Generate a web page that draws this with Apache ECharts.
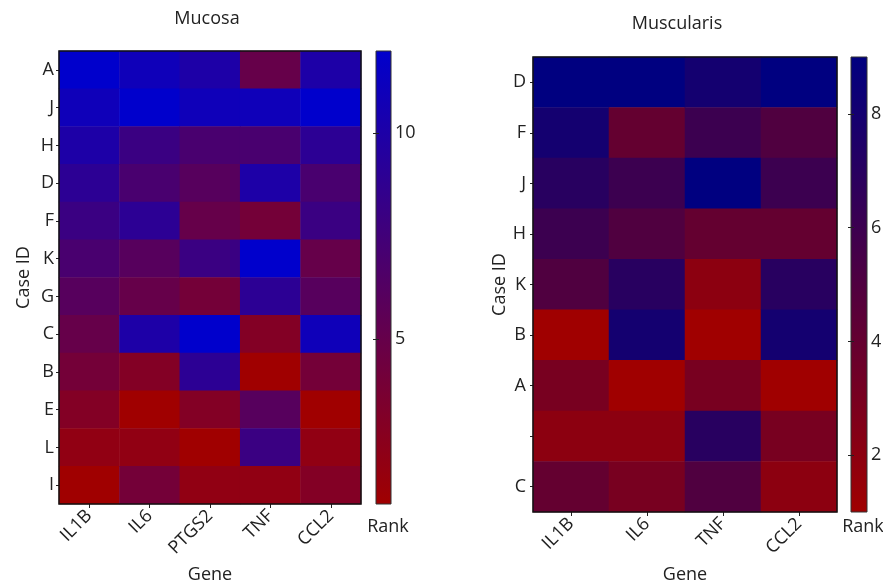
<!DOCTYPE html>
<html><head><meta charset="utf-8">
<script src="https://cdn.jsdelivr.net/npm/echarts@6/dist/echarts.min.js"></script>
<style>html,body{margin:0;padding:0;background:#fff}#c{width:883px;height:583px}</style>
</head><body><div id="c"></div>
<script>
// ---- Mucosa (left) ----
const mucosaGenes = ['IL1B', 'IL6', 'PTGS2', 'TNF', 'CCL2'];
const mucosaCases = ['A', 'J', 'H', 'D', 'F', 'K', 'G', 'C', 'B', 'E', 'L', 'I'];
const mucosaIL1B  = [12, 11, 10, 9, 8, 7, 6, 5, 4, 3, 2, 1];
const mucosaIL6   = [11, 12, 8, 7, 9, 6, 5, 10, 3, 1, 2, 4];
const mucosaPTGS2 = [10, 11, 7, 6, 5, 8, 4, 12, 9, 3, 1, 2];
const mucosaTNF   = [5, 11, 7, 10, 4, 12, 9, 3, 1, 6, 8, 2];
const mucosaCCL2  = [10, 12, 9, 7, 8, 5, 6, 11, 4, 1, 2, 3];
const mucosaTicks = [5, 10];

// ---- Muscularis (right) ----
const muscGenes = ['IL1B', 'IL6', 'TNF', 'CCL2'];
const muscCases = ['D', 'F', 'J', 'H', 'K', 'B', 'A', '', 'C'];
const muscIL1B = [9, 8, 7, 6, 5, 1, 3, 2, 4];
const muscIL6  = [9, 4, 6, 5, 7, 8, 1, 2, 3];
const muscTNF  = [8, 6, 9, 4, 2, 1, 3, 7, 5];
const muscCCL2 = [9, 5, 6, 4, 7, 8, 1, 3, 2];
const muscTicks = [2, 4, 6, 8];

const mucosaCols = [mucosaIL1B, mucosaIL6, mucosaPTGS2, mucosaTNF, mucosaCCL2];
const muscCols = [muscIL1B, muscIL6, muscTNF, muscCCL2];

function toCells(cols) {
  const out = [];
  cols.forEach((col, gi) => col.forEach((v, ci) => out.push([gi, ci, v])));
  return out;
}

const FONT = 'Open Sans';
const TXT = '#222';
const FS = 18;
const lowC = '#A00000';
const highL = '#0000CC';
const highR = '#000080';

function grad(top, bottom) {
  return { type: 'linear', x: 0, y: 0, x2: 0, y2: 1,
    colorStops: [{ offset: 0, color: top }, { offset: 1, color: bottom }] };
}

const chart = echarts.init(document.getElementById('c'), null, { renderer: 'canvas' });

const catX = (idx, data, gap) => ({
  gridIndex: idx, type: 'category', data: data,
  axisLine: { show: false },
  axisTick: { show: true, alignWithLabel: true, length: 4, lineStyle: { color: TXT, width: 1 } },
  axisLabel: { rotate: 45, margin: 9, fontSize: FS, color: TXT, fontFamily: FONT },
  splitLine: { show: false },
  name: 'Gene', nameLocation: 'middle', nameGap: gap,
  nameTextStyle: { fontSize: FS, color: TXT, fontFamily: FONT }
});
const catY = (idx, data, gap, margin) => ({
  gridIndex: idx, type: 'category', data: data, inverse: true,
  axisLine: { show: false },
  axisTick: { show: true, alignWithLabel: true, length: 3, lineStyle: { color: TXT, width: 1 } },
  axisLabel: { margin: margin, fontSize: FS, color: TXT, fontFamily: FONT },
  splitLine: { show: false },
  name: 'Case ID', nameLocation: 'middle', nameGap: gap,
  nameTextStyle: { fontSize: FS, color: TXT, fontFamily: FONT }
});
const barAxis = (idx, max, ticks, pos, showLabel) => ({
  gridIndex: idx, type: 'value', min: 1, max: max, position: pos,
  axisLine: { show: false },
  axisTick: { show: true, inside: true, length: 3, customValues: ticks, lineStyle: { color: '#222', width: 1 } },
  axisLabel: { show: showLabel, customValues: ticks, margin: 4, fontSize: FS, color: TXT, fontFamily: FONT },
  splitLine: { show: false }
});

const option = {
  animation: false,
  backgroundColor: '#fff',
  grid: [
    { left: 59, top: 51, width: 302, height: 453, outerBoundsMode: 'none', containLabel: false, show: true, z: 10, backgroundColor: 'transparent', borderColor: '#111', borderWidth: 1.5 },
    { left: 533, top: 57, width: 304, height: 455, outerBoundsMode: 'none', containLabel: false, show: true, z: 10, backgroundColor: 'transparent', borderColor: '#111', borderWidth: 1.5 },
    { left: 376, top: 51, width: 15, height: 453, outerBoundsMode: 'none', containLabel: false, show: true, backgroundColor: grad(highL, lowC), borderColor: '#333', borderWidth: 1 },
    { left: 851, top: 57, width: 16, height: 455, outerBoundsMode: 'none', containLabel: false, show: true, backgroundColor: grad(highR, lowC), borderColor: '#333', borderWidth: 1 }
  ],
  xAxis: [
    catX(0, mucosaGenes, 62),
    catX(1, muscGenes, 54),
    { gridIndex: 2, type: 'value', show: false },
    { gridIndex: 3, type: 'value', show: false }
  ],
  yAxis: [
    catY(0, mucosaCases, 26, 5),
    catY(1, muscCases, 21, 7),
    barAxis(2, 12, mucosaTicks, 'right', true),
    barAxis(2, 12, mucosaTicks, 'left', false),
    barAxis(3, 9, muscTicks, 'right', true),
    barAxis(3, 9, muscTicks, 'left', false)
  ],
  visualMap: [
    { type: 'continuous', seriesIndex: 0, min: 1, max: 12, show: false, inRange: { color: [lowC, highL] } },
    { type: 'continuous', seriesIndex: 1, min: 1, max: 9, show: false, inRange: { color: [lowC, highR] } }
  ],
  series: [
    { type: 'heatmap', xAxisIndex: 0, yAxisIndex: 0, data: toCells(mucosaCols), emphasis: { disabled: true }, itemStyle: { borderWidth: 0 } },
    { type: 'heatmap', xAxisIndex: 1, yAxisIndex: 1, data: toCells(muscCols), emphasis: { disabled: true }, itemStyle: { borderWidth: 0 } }
  ],
  graphic: [
    { type: 'text', x: 207, y: 19, style: { text: 'Mucosa', font: FS + 'px "' + FONT + '"', fill: TXT, textAlign: 'center', textVerticalAlign: 'middle' } },
    { type: 'text', x: 677, y: 24, style: { text: 'Muscularis', font: FS + 'px "' + FONT + '"', fill: TXT, textAlign: 'center', textVerticalAlign: 'middle' } },
    { type: 'text', x: 388, y: 527, style: { text: 'Rank', font: FS + 'px "' + FONT + '"', fill: TXT, textAlign: 'center', textVerticalAlign: 'middle' } },
    { type: 'text', x: 863, y: 527, style: { text: 'Rank', font: FS + 'px "' + FONT + '"', fill: TXT, textAlign: 'center', textVerticalAlign: 'middle' } }
  ]
};
chart.setOption(option);
</script>
</body></html>
